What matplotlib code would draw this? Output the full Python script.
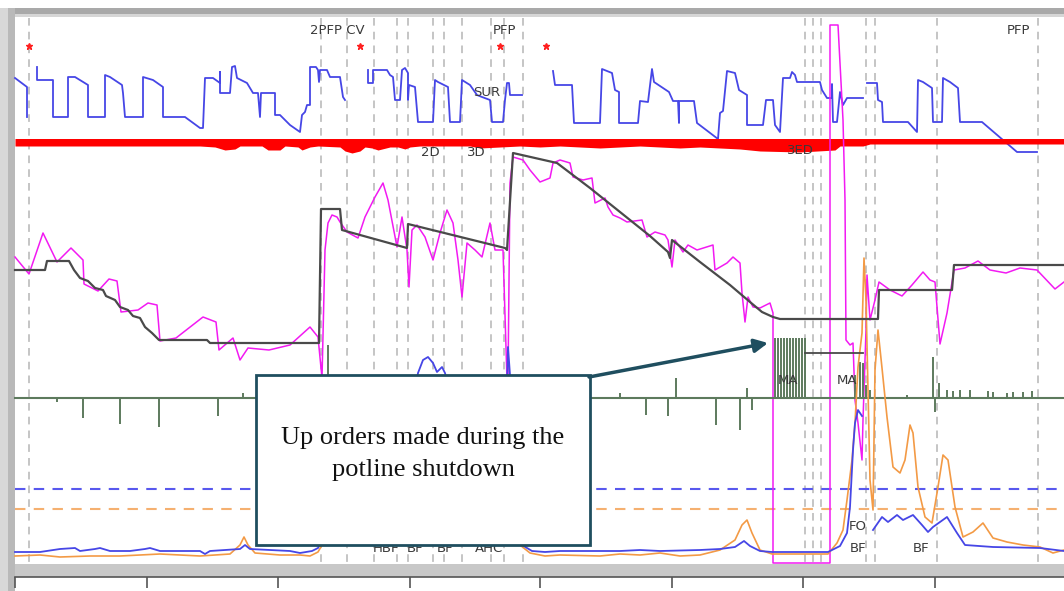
import numpy as np
import matplotlib
matplotlib.use("Agg")
import matplotlib.pyplot as plt
from matplotlib.patches import Rectangle

# ---------------- data (time index on x, level on y; screen-like inverted level axis) -------------
event_times = [29, 321, 347, 374, 397, 408, 433, 444, 462, 491, 504, 523,
               805, 813, 821, 866, 875, 937, 1038]
star_times = [29, 360, 500, 546]

top_blue_1 = [(15, 78), (27, 87), (27, 117)]
top_blue_2 = [(37, 67), (37, 80), (53, 80), (53, 117), (68, 117), (68, 77), (75, 77), (88, 85), (88, 117),
              (105, 117), (105, 75), (110, 77), (122, 85), (123, 93), (125, 117), (143, 117), (143, 77),
              (153, 80), (163, 87), (163, 117), (185, 117), (200, 128), (203, 128), (205, 78), (213, 78),
              (220, 83), (220, 72), (220, 93), (230, 93), (232, 67), (235, 66), (237, 78), (247, 83),
              (250, 88), (253, 93), (258, 93), (260, 117), (261, 93), (275, 93), (275, 115), (280, 115),
              (290, 125), (300, 132), (302, 115), (305, 112), (307, 105), (310, 105), (310, 67), (316, 67),
              (318, 70), (319, 82), (320, 70), (327, 70), (330, 77), (340, 77), (343, 97), (345, 100)]
top_blue_3 = [(368, 70), (368, 83), (373, 83), (373, 70), (387, 70), (390, 75), (393, 77), (395, 100),
              (400, 100), (402, 70), (405, 68), (408, 73), (408, 100), (409, 85), (415, 87), (418, 122),
              (433, 122), (435, 80), (438, 82), (448, 87), (450, 122), (460, 122), (462, 80), (470, 85),
              (477, 95), (482, 97), (490, 100), (492, 122), (503, 122), (505, 100), (507, 83), (509, 83),
              (510, 95), (522, 95)]
top_blue_4 = [(553, 71), (555, 85), (572, 85), (574, 123), (600, 123), (602, 69), (612, 73), (615, 90),
              (619, 92), (619, 123), (638, 123), (640, 101), (648, 102), (652, 69), (654, 82), (669, 92),
              (673, 101), (678, 101), (679, 123), (679, 101), (694, 101), (697, 123), (718, 139), (720, 113),
              (723, 111), (727, 71), (735, 73), (739, 90), (747, 95), (747, 125), (763, 125), (766, 100),
              (773, 100), (775, 125), (780, 132), (783, 78), (790, 78), (792, 72), (795, 75), (797, 82),
              (820, 82), (822, 90), (827, 98), (832, 98), (832, 84), (833, 122), (837, 122), (840, 92),
              (843, 105), (847, 98), (863, 98)]
top_blue_5 = [(867, 83), (877, 83), (878, 100), (882, 102), (883, 122), (908, 122), (917, 132), (918, 80),
              (923, 82), (932, 88), (933, 122), (942, 122), (943, 78), (950, 82), (958, 88), (960, 122),
              (982, 122), (1003, 140), (1017, 152), (1037, 152)]

red_t = [15, 200, 215, 225, 235, 240, 262, 268, 280, 285, 298, 302, 310, 318, 340, 345, 352, 360, 365,
         372, 378, 390, 398, 405, 410, 420, 470, 480, 520, 540, 560, 600, 640, 680, 700, 740, 760, 800,
         835, 840, 863, 870, 1064]
red_low = [146, 146, 147, 150, 149, 146, 146, 150, 150, 146, 147, 150, 147, 146, 147, 151, 153, 151, 147,
           148, 150, 147, 147, 149, 147, 146, 146, 148, 146, 147, 146, 148, 146, 148, 147, 149, 151, 152,
           150, 146, 146, 144, 144]
red_high = 138.5

setpoint = [(15, 270), (45, 270), (47, 261), (69, 261), (74, 270), (80, 278), (88, 281), (95, 288),
            (103, 290), (106, 296), (115, 300), (120, 307), (128, 310), (133, 316), (140, 318), (145, 327),
            (152, 333), (159, 340), (207, 340), (210, 343), (319, 343), (321, 209), (340, 209), (342, 230),
            (407, 248), (408, 224), (505, 248), (507, 250), (513, 153), (557, 163), (590, 188), (620, 212),
            (650, 236), (668, 252), (670, 258), (672, 240), (700, 262), (730, 285), (750, 302), (762, 312),
            (773, 317), (780, 319), (878, 319), (879, 290), (952, 290), (954, 265), (1064, 265)]
ma_level = [(805, 353), (863, 353)]

measured = [(15, 257), (29, 274), (43, 233), (57, 262), (71, 248), (83, 260), (84, 284), (98, 291),
            (109, 279), (117, 281), (121, 312), (138, 310), (148, 303), (157, 305), (160, 341), (176, 338),
            (203, 317), (216, 322), (219, 350), (233, 338), (240, 360), (248, 348), (269, 350), (290, 345),
            (310, 327), (318, 337), (322, 378), (325, 250), (328, 223), (332, 215), (337, 217), (340, 222),
            (347, 232), (358, 238), (365, 217), (375, 197), (383, 183), (388, 200), (397, 247), (402, 217),
            (407, 250), (409, 287), (412, 230), (417, 225), (425, 237), (433, 260), (440, 233), (447, 210),
            (453, 223), (458, 260), (462, 297), (467, 243), (475, 250), (482, 257), (490, 223), (495, 250),
            (503, 250), (506, 350), (507, 380), (508, 380), (510, 183), (513, 157), (523, 160), (530, 170),
            (540, 182), (550, 178), (553, 163), (560, 160), (570, 163), (573, 177), (583, 180), (592, 178),
            (595, 203), (605, 198), (608, 207), (613, 215), (620, 218), (627, 222), (642, 220), (647, 237),
            (655, 232), (665, 235), (668, 240), (672, 267), (675, 240), (683, 252), (688, 245), (697, 250),
            (713, 245), (715, 270), (727, 263), (733, 257), (740, 263), (742, 293), (745, 322), (748, 297),
            (753, 307), (760, 308), (770, 303), (773, 313), (773, 563), (830, 563), (830, 25), (838, 25),
            (843, 120), (845, 200), (846, 340), (850, 345), (853, 343), (855, 400), (858, 423), (862, 460),
            (863, 420), (866, 330), (867, 275), (870, 320), (875, 300), (879, 282), (890, 290), (902, 296),
            (912, 285), (923, 272), (930, 280), (935, 282), (940, 344), (947, 313), (954, 270), (965, 268),
            (978, 261), (990, 270), (1006, 273), (1020, 268), (1037, 270), (1055, 289), (1064, 282)]

order_t = [57, 83, 120, 159, 218, 243, 328, 620, 646, 668, 676, 716, 740, 747, 752,
           775, 778, 781, 784, 787, 790, 793, 796, 799, 802, 805,
           855, 860, 863, 866, 870, 907, 933, 935, 939, 947, 953, 960, 970, 988, 993, 1007, 1013, 1023, 1032]
order_v = [402, 418, 424, 427, 416, 393, 345, 393, 415, 416, 378, 425, 430, 388, 410,
           338, 338, 338, 338, 338, 338, 338, 338, 338, 338, 338,
           375, 362, 363, 385, 390, 395, 357, 412, 383, 390, 391, 390, 390, 391, 392, 393, 392, 392, 391]
order_base = 398

limit_blue = 489
limit_orange = 509

low_blue = [(15, 552), (40, 552), (60, 549), (75, 548), (80, 551), (95, 549), (100, 548), (110, 551),
            (130, 551), (145, 549), (150, 548), (160, 551), (200, 551), (205, 554), (210, 551), (240, 549),
            (245, 545), (250, 549), (290, 551), (300, 553), (312, 551), (318, 548), (322, 540), (326, 520),
            (400, 470), (418, 373), (423, 360), (428, 357), (433, 363), (437, 372), (442, 367), (445, 373),
            (470, 470), (505, 470), (508, 347), (510, 375), (515, 520), (522, 545), (532, 551), (545, 552),
            (560, 551), (600, 551), (620, 551), (640, 550), (660, 551), (700, 550), (720, 549), (735, 547),
            (744, 541), (750, 546), (760, 551), (772, 552), (828, 552), (840, 546), (847, 533), (850, 507),
            (853, 450), (855, 423), (858, 410), (862, 416), (None, None), (873, 530), (882, 517), (888, 522),
            (897, 515), (903, 520), (913, 515), (922, 525), (928, 532), (933, 527), (947, 517), (957, 533),
            (965, 545), (993, 547), (1040, 548), (1064, 551)]
low_orange = [(15, 556), (40, 555), (60, 557), (90, 556), (120, 556), (160, 554), (200, 556), (230, 554),
              (240, 545), (244, 537), (248, 545), (255, 553), (280, 555), (300, 555), (310, 556), (318, 552),
              (322, 545), (326, 535), (340, 480), (500, 480), (520, 545), (530, 553), (545, 556),
              (560, 555), (600, 556), (620, 554), (640, 555), (660, 553), (680, 556), (700, 555), (720, 550),
              (735, 540), (742, 525), (747, 520), (752, 533), (760, 550), (772, 554), (828, 554), (837, 543),
              (843, 530), (847, 500), (852, 460), (855, 423), (858, 367), (862, 333), (864, 258), (866, 300),
              (870, 480), (873, 510), (875, 370), (878, 330), (882, 368), (887, 417), (893, 467), (900, 473),
              (905, 460), (910, 425), (913, 433), (918, 487), (925, 517), (932, 523), (938, 487), (943, 455),
              (948, 460), (955, 507), (963, 537), (973, 532), (983, 523), (993, 538), (1007, 542),
              (1023, 545), (1040, 547), (1053, 553), (1064, 550)]

event_labels = [("2PFP CV", 337, 31), ("PFP", 504, 31), ("PFP", 1018, 31), ("SUR", 487, 93),
                ("2D", 430, 153), ("3D", 476, 153), ("3ED", 800, 150), ("MA", 788, 381), ("MA", 847, 381),
                ("FO", 858, 527), ("BF", 858, 549), ("BF", 921, 549), ("HBF", 386, 548), ("BF", 415, 548),
                ("BF", 445, 548), ("AHC", 489, 548)]
axis_ticks = [15, 147, 278, 410, 540, 672, 803, 935]

note_lines = ["Up orders made during the", "potline shutdown"]


def xy(pairs):
    a = np.array([(np.nan, np.nan) if p[0] is None else p for p in pairs], dtype=float)
    return a[:, 0], a[:, 1]


# ---------------- figure ----------------
W, H = 1064, 591
fig = plt.figure(figsize=(W / 100, H / 100), dpi=100)
ax = fig.add_axes([0, 0, 1, 1])
ax.set_xlim(0, W)
ax.set_ylim(H, 0)
ax.axis("off")

# window frame
ax.add_patch(Rectangle((0, 8), W, 6, facecolor="#a9a9a9", edgecolor="none", zorder=1))
ax.add_patch(Rectangle((0, 14), W, 3, facecolor="#d6d6d6", edgecolor="none", zorder=1))
ax.add_patch(Rectangle((0, 8), 8, H, facecolor="#d8d8d8", edgecolor="none", zorder=1))
ax.add_patch(Rectangle((8, 8), 7, H, facecolor="#b9b9b9", edgecolor="none", zorder=1))
ax.add_patch(Rectangle((15, 564), W, 13, facecolor="#c8c8c8", edgecolor="none", zorder=1))
ax.plot([15, W], [577, 577], color="#555555", lw=1.2, zorder=2)
ax.vlines(axis_ticks, 577, 588, color="#555555", lw=1.2, zorder=2)

# event markers
ax.vlines(event_times, 18, 562, colors="#b5b5b5", linestyles=(0, (5, 4)), lw=1.1, zorder=2)
ax.plot(star_times, [46] * len(star_times), ls="none", marker="*", ms=5, color="#ff2020", zorder=3)

# top blue trace
for seg in (top_blue_1, top_blue_2, top_blue_3, top_blue_4, top_blue_5):
    sx, sy = xy(seg)
    ax.plot(sx, sy, color="#4646e6", lw=1.3, zorder=4)

# red band
ax.fill_between(red_t, red_high, red_low, color="#ff0000", lw=0, zorder=4)

# main setpoint & measured traces
mx, my = xy(measured)
ax.plot(mx, my, color="#f21af2", lw=1.1, zorder=5)
sx, sy = xy(setpoint)
ax.plot(sx, sy, color="#4a4a4a", lw=1.6, zorder=6)
qx, qy = xy(ma_level)
ax.plot(qx, qy, color="#4a4a4a", lw=1.3, zorder=6)

# orders (bars from baseline)
ax.plot([15, W], [order_base, order_base], color="#5d7a5d", lw=1.5, zorder=5)
ax.vlines(order_t, order_base, order_v, colors="#5d7a5d", lw=1.4, zorder=5)

# limits
ax.plot([15, W], [limit_blue, limit_blue], color="#5858ee", lw=1.5, ls=(0, (5, 4)), zorder=4)
ax.plot([15, W], [limit_orange, limit_orange], color="#f5b070", lw=1.5, ls=(0, (5, 4)), zorder=4)

# low traces
ox, oy = xy(low_orange)
ax.plot(ox, oy, color="#f39a45", lw=1.2, zorder=5)
bx, by = xy(low_blue)
ax.plot(bx, by, color="#4646e6", lw=1.3, zorder=5)

# labels
for txt, tx, ty in event_labels:
    ax.text(tx, ty, txt, ha="center", va="center", fontsize=9.5, color="#3a3a3a",
            family="DejaVu Sans", zorder=7)

# annotation box + arrow
ax.add_patch(Rectangle((256, 375), 334, 170, facecolor="white", edgecolor="#1f4e5f", lw=2, zorder=10))
for i, line in enumerate(note_lines):
    ax.text(423, 438 + 32 * i, line, ha="center", va="center", fontsize=19, family="Liberation Serif",
            color="#111111", zorder=11)
ax.annotate("", xy=(768, 343), xytext=(589, 377),
            arrowprops=dict(arrowstyle="-|>", color="#1f4e5f", lw=2.5, mutation_scale=20,
                            shrinkA=0, shrinkB=0), zorder=11)

fig.savefig("out.png", dpi=100, facecolor="white")
